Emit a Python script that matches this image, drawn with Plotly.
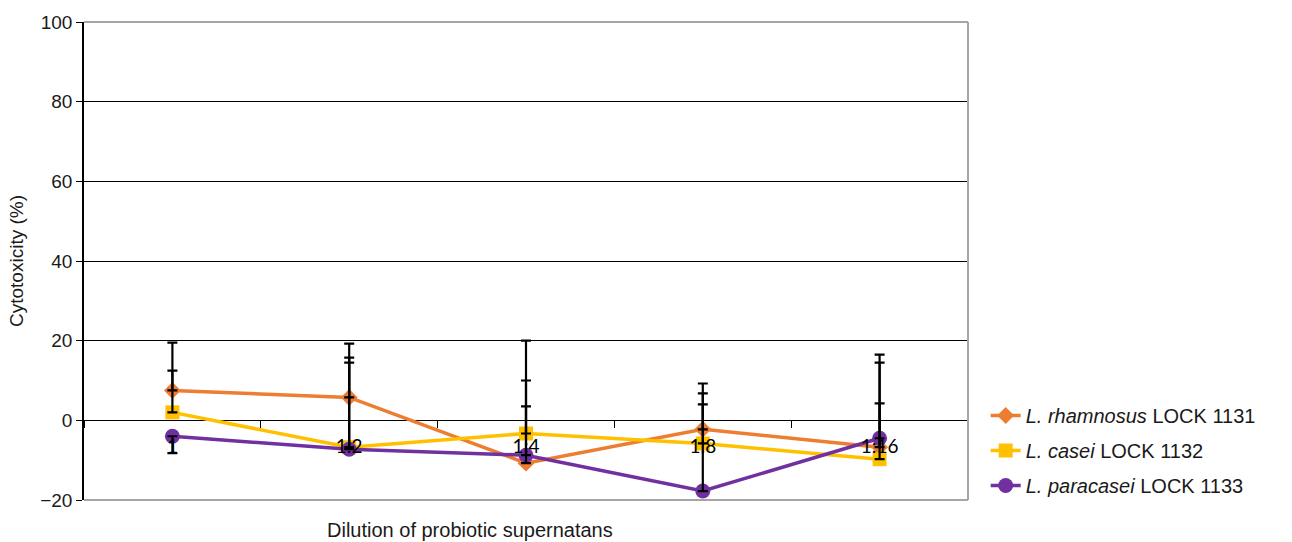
import plotly.graph_objects as go

categories = ["1", "1:2", "1:4", "1:8", "1:16"]
series_names = ["<i>L. rhamnosus</i> LOCK 1131", "<i>L. casei</i> LOCK 1132", "<i>L. paracasei</i> LOCK 1133"]
rhamnosus = [7.5, 5.75, -10.75, -2.25, -6.75]
casei = [2.0, -6.75, -3.3, -5.8, -9.75]
paracasei = [-4.0, -7.25, -8.75, -17.75, -4.5]
# error bars (plus / minus)
rhamnosus_err_plus = [12.0, 13.5, 14.25, 11.5, 11.0]
casei_err_plus = [10.5, 22.5, 23.3, 9.8, 26.25]
paracasei_err_plus = [0.0, 21.75, 18.75, 24.5, 19.0]
paracasei_err_minus = [4.25, 0.0, 0.0, 0.0, 0.0]

colors = ["#ED7D31", "#FFC000", "#7030A0"]
symbols = ["diamond", "square", "circle"]
sizes = [13, 14, 15]

fig = go.Figure()
all_vals = [rhamnosus, casei, paracasei]
for i, (name, vals) in enumerate(zip(series_names, all_vals)):
    fig.add_trace(go.Scatter(
        x=categories, y=vals, name=name, mode="lines+markers",
        line=dict(color=colors[i], width=3.5),
        marker=dict(symbol=symbols[i], size=sizes[i], color=colors[i]),
        legendgroup=str(i),
    ))

errs = [(rhamnosus, rhamnosus_err_plus, [0]*5), (casei, casei_err_plus, [0]*5),
        (paracasei, paracasei_err_plus, paracasei_err_minus)]
for vals, ep, em in errs:
    fig.add_trace(go.Scatter(
        x=categories, y=vals, mode="markers", showlegend=False, hoverinfo="skip",
        marker=dict(size=1, color="rgba(0,0,0,0)"),
        error_y=dict(type="data", array=ep, arrayminus=em, symmetric=False,
                     color="black", thickness=2.2, width=5),
    ))

fig.update_layout(
    width=1292, height=542,
    margin=dict(l=84, r=324, t=20, b=42),
    plot_bgcolor="white", paper_bgcolor="white",
    font=dict(family="Liberation Sans, Arial", size=19, color="#1a1a1a"),
    showlegend=True,
    legend=dict(x=1.02, y=0.2175, xanchor="left", yanchor="top",
                font=dict(size=20, color="#1a1a1a"), tracegroupgap=6,
                bgcolor="rgba(0,0,0,0)"),
    xaxis=dict(type="category", categoryorder="array", categoryarray=categories,
               range=[-0.5, 4.5], anchor="free", position=1/6,
               showgrid=False, showline=False, zeroline=False,
               ticks="outside", tickson="boundaries", ticklen=7, tickwidth=1,
               tickcolor="black", layer="above traces", ticklabelstandoff=13,
               tickfont=dict(family="Lato, Carlito, sans-serif", size=19, color="black")),
    yaxis=dict(range=[-20, 100], tickvals=[-20, 0, 20, 40, 60, 80, 100],
               showgrid=True, gridcolor="black", gridwidth=1, zeroline=False,
               showline=True, linecolor="black", linewidth=1.5,
               ticks="outside", ticklen=6, tickcolor="black",
               tickfont=dict(size=19, color="#1a1a1a"),
               title=dict(text="Cytotoxicity (%)", standoff=12, font=dict(size=19))),
    shapes=[
        dict(type="line", xref="paper", yref="paper", x0=0, x1=1, y0=1, y1=1,
             line=dict(color="#a6a6a6", width=2), layer="above"),
        dict(type="line", xref="paper", yref="paper", x0=0, x1=1, y0=0, y1=0,
             line=dict(color="#a6a6a6", width=2), layer="above"),
        dict(type="line", xref="paper", yref="paper", x0=1, x1=1, y0=0, y1=1,
             line=dict(color="#a6a6a6", width=2), layer="above"),
    ],
    annotations=[dict(text="Dilution of probiotic supernatans", xref="paper", yref="paper",
                      x=(470 - 84) / 884, y=0, yshift=-30, showarrow=False,
                      xanchor="center", yanchor="middle", font=dict(size=20))],
)

fig.write_html("out.html")
